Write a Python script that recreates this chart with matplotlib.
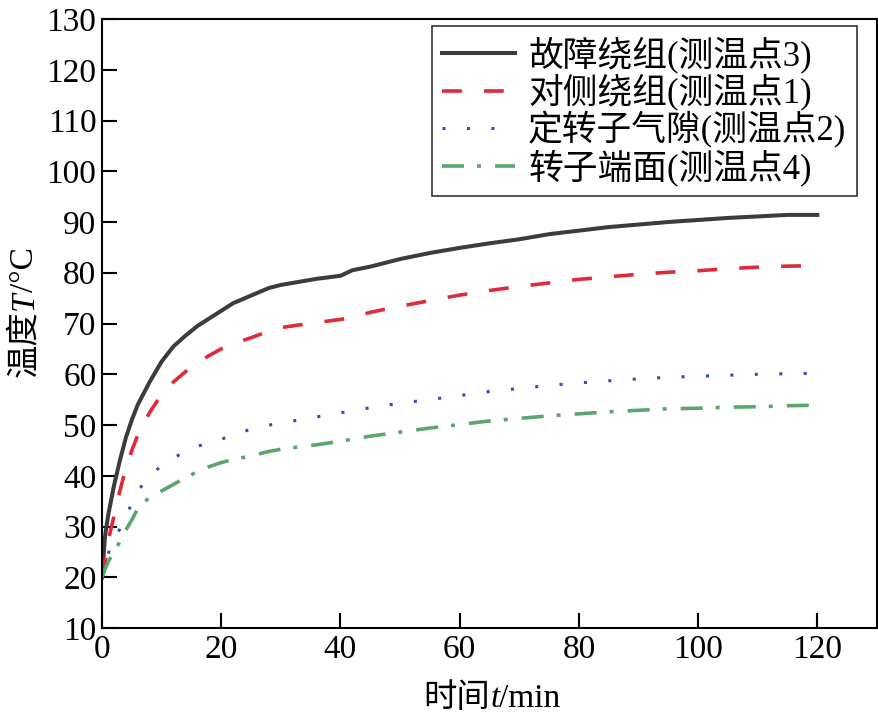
import matplotlib
matplotlib.use("Agg")
import matplotlib.pyplot as plt
from matplotlib.transforms import IdentityTransform

FAMILY = ["Liberation Serif", "Noto Sans CJK SC"]
plt.rcParams["font.family"] = FAMILY

# data
time_min = [0, 0.5, 1, 2, 3, 4, 5, 6, 8, 10, 12, 14, 16, 18, 20, 22, 25, 28, 30,
            33, 36, 40, 42, 45, 50, 55, 60, 65, 70, 75, 80, 85, 90, 95, 100,
            105, 110, 115, 120]
fault_winding = [20, 28, 32, 38, 43, 47.5, 51, 54, 58.5, 62.5, 65.5, 67.6, 69.5,
                 71, 72.5, 74, 75.5, 77, 77.6, 78.2, 78.8, 79.4, 80.5, 81.2,
                 82.7, 83.9, 84.9, 85.8, 86.6, 87.6, 88.3, 89.0, 89.5, 90.0,
                 90.4, 90.8, 91.1, 91.4, 91.4]
opposite_winding = [20, 23, 27, 32, 37, 41.5, 45, 48, 52.5, 56, 58.5, 60.5, 62.3,
                    63.7, 65, 66, 67.2, 68.5, 69.2, 69.7, 70.2, 70.8, 71.2, 72.2,
                    73.4, 74.5, 75.6, 76.5, 77.3, 78, 78.7, 79.2, 79.7, 80.1,
                    80.4, 80.8, 81.1, 81.3, 81.4]
air_gap = [20, 22.5, 24.5, 27.5, 29.5, 32, 34.5, 37, 40, 42, 43.5, 44.8, 45.8,
           46.5, 47.2, 48, 49.2, 50, 50.3, 51, 51.6, 52.4, 52.8, 53.4, 54.3,
           55, 55.8, 56.6, 57.2, 57.8, 58.3, 58.7, 59.1, 59.4, 59.6, 59.8, 60,
           60.1, 60.2]
rotor_end = [20, 21.5, 23, 25, 27, 29.3, 31.3, 33.5, 35.8, 37, 38.3, 39.6, 40.8,
             41.8, 42.6, 43.2, 43.9, 44.8, 45.2, 45.7, 46.1, 46.8, 47.2, 47.8,
             48.6, 49.4, 50.1, 50.8, 51.3, 51.8, 52.2, 52.6, 52.9, 53.2, 53.3,
             53.5, 53.6, 53.8, 53.9]

labels = ["故障绕组(测温点3)", "对侧绕组(测温点1)", "定转子气隙(测温点2)", "转子端面(测温点4)"]
x_ticks = [0, 20, 40, 60, 80, 100, 120]
y_ticks = [10, 20, 30, 40, 50, 60, 70, 80, 90, 100, 110, 120, 130]


def place_parts(fig, x, y, parts, size, vertical=False):
    # mixed upright / italic label, centred on x (or y when vertical)
    renderer = fig.canvas.get_renderer()
    arts = []
    for s, style in parts:
        arts.append(fig.text(0, 0, s, fontsize=size, fontstyle=style, family=FAMILY,
                             rotation=90 if vertical else 0, rotation_mode="anchor",
                             ha="left", va="baseline", transform=IdentityTransform()))
    lengths = []
    for t in arts:
        bb = t.get_window_extent(renderer)
        lengths.append(bb.height if vertical else bb.width)
    pos = (y if vertical else x) - sum(lengths) / 2
    for t, n in zip(arts, lengths):
        t.set_position((x, pos) if vertical else (pos, y))
        pos += n


fig = plt.figure(figsize=(8.79, 7.18), dpi=100)
ax = fig.add_axes([102 / 879, 90 / 718, 775 / 879, 609 / 718])

lw = 2.6
ax.plot(time_min, fault_winding, color="#3c3c3c", lw=lw + 0.3, label=labels[0])
ax.plot(time_min, opposite_winding, color="#e02a3a", lw=lw, dashes=(5.5, 6.1),
        label=labels[1])
ax.plot(time_min, air_gap, color="#34519f", lw=lw - 0.4, dashes=(1.0, 7.0),
        label=labels[2])
ax.plot(time_min, rotor_end, color="#5da56e", lw=lw, dashes=(6.1, 3.6, 1.1, 3.9),
        label=labels[3])

ax.set_xlim(0, 130)
ax.set_ylim(10, 130)
ax.set_xticks(x_ticks)
ax.set_yticks(y_ticks)
ax.tick_params(direction="in", length=11, width=1.5, labelsize=24, pad=5,
               top=False, right=False)
ax.tick_params(axis="y", pad=4)
for sp in ax.spines.values():
    sp.set_linewidth(1.5)

leg = ax.legend(loc="upper right", bbox_to_anchor=(0.974, 0.9885), borderaxespad=0,
                fontsize=25, frameon=True, fancybox=False, handlelength=2.1,
                handletextpad=0.37, borderpad=0.3, labelspacing=0.02)
leg.get_frame().set_edgecolor("black")
leg.get_frame().set_linewidth(1.2)

place_parts(fig, 492, 11, [("时间", "normal"), ("t", "italic"), ("/min", "normal")], 24)
place_parts(fig, 33, 406, [("温度", "normal"), ("T", "italic"), ("/°C", "normal")], 24,
            vertical=True)

fig.savefig("out.png", dpi=100)
